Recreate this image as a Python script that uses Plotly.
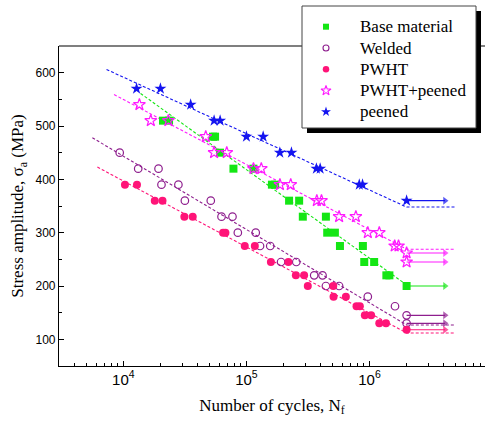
import plotly.graph_objects as go
import math

# ---------------- data ----------------
base_N = [21000, 23500, 53500, 55600, 61000, 78400, 114000, 161000, 171000, 222000, 268000,
          287000, 442000, 453000, 523000, 575000, 883000, 906000, 1090000, 1370000, 1450000]
base_S = [510, 510, 480, 480, 450, 420, 420, 390, 390, 360, 360,
          330, 330, 300, 300, 275, 275, 245, 245, 220, 220]
base_run_S = [200]

welded_N = [9340, 13200, 19300, 20400, 28000, 31600, 51300, 62700, 77000, 85100, 119000,
            129000, 156000, 191000, 254000, 355000, 415000, 442000, 566000, 968000, 1610000]
welded_S = [450, 420, 420, 390, 390, 360, 360, 330, 330, 300, 300,
            275, 275, 245, 245, 220, 220, 200, 200, 180, 162]
welded_run_S = [145, 130]

pwht_N = [10300, 12900, 18000, 20800, 31300, 36600, 64600, 67500, 96900, 117000, 158000, 219000,
          252000, 294000, 315000, 507000, 510000, 642000, 784000, 834000, 916000, 1030000, 1200000, 1360000]
pwht_S = [390, 390, 360, 360, 330, 330, 300, 300, 275, 275, 245, 245,
          220, 220, 200, 200, 180, 180, 162, 162, 145, 145, 130, 130]
pwht_run_S = [118]

pp_N = [13500, 16700, 23200, 46700, 54600, 69200, 114000, 132000, 187000, 229000, 373000, 407000,
        566000, 774000, 968000, 1200000, 1600000, 1720000]
pp_S = [540, 510, 510, 480, 450, 450, 420, 420, 390, 390, 360, 360,
        330, 330, 300, 300, 275, 275]
pp_run_S = [262, 245]

peened_N = [12800, 20000, 35200, 54600, 61100, 100000, 136700, 186700, 232000, 370000, 397000, 825000, 877000]
peened_S = [570, 570, 540, 510, 510, 480, 480, 450, 450, 420, 420, 390, 390]
peened_run_S = [360]

runout_N = 2e6
arrow_end_N = 4.1e6

# fitted S-N lines (from the picture)
fit_base_N, fit_base_S = [13800, 2e6], [561, 202]
fit_welded_N, fit_welded_S = [5600, 2e6, 5e6], [478, 127, 127]
fit_pwht_N, fit_pwht_S = [6150, 2e6, 5e6], [423, 112, 112]
fit_pp_N, fit_pp_S = [8400, 2e6, 5e6], [559, 269, 269]
fit_peened_N, fit_peened_S = [7300, 2e6, 5e6], [606, 348, 348]

names = ["Base material", "Welded", "PWHT", "PWHT+peened", "peened"]

# ---------------- styles ----------------
C_GREEN = "#14E614"
C_PURPLE = "#8E1E8E"
C_PINK = "#FF1478"
C_MAGENTA = "#FF1AFF"
C_BLUE = "#1414F0"

# name, N, S, runout S, fit N, fit S, colour, symbol, size, open?, legend size
series = [
    (names[0], base_N, base_S, base_run_S, fit_base_N, fit_base_S, C_GREEN, "square", 8, 0, 6),
    (names[1], welded_N, welded_S, welded_run_S, fit_welded_N, fit_welded_S, C_PURPLE, "circle-open", 7.5, 1, 6),
    (names[2], pwht_N, pwht_S, pwht_run_S, fit_pwht_N, fit_pwht_S, C_PINK, "circle", 8, 0, 6.5),
    (names[3], pp_N, pp_S, pp_run_S, fit_pp_N, fit_pp_S, C_MAGENTA, "star-open", 9, 1, 7.5),
    (names[4], peened_N, peened_S, peened_run_S, fit_peened_N, fit_peened_S, C_BLUE, "star", 9, 0, 7.5),
]

# page / plot-area geometry (px)
W, H = 486, 421
PLOT_X = (59, 485)
PLOT_Y = (46, 366)

def px_x(px):
    return px / W

def px_y(py):
    return (H - py) / H

# legend geometry (px)
LEG_BOX = (302, 6, 476, 128)
LEG_SHADOW = 5
LEG_MARK_X = 326
LEG_TEXT_X = 358
LEG_ROW_Y = [26.7, 48.0, 69.3, 90.6, 111.8]

fig = go.Figure()

# fit lines
for (nm, N, S, runS, fN, fS, col, sym, sz, op, lsz) in series:
    fig.add_trace(go.Scatter(x=fN, y=fS, mode="lines", showlegend=False,
                             line=dict(color=col, width=1.1, dash="3px,2px"), hoverinfo="skip"))

# run-out arrows
for (nm, N, S, runS, fN, fS, col, sym, sz, op, lsz) in series:
    for s in runS:
        fig.add_trace(go.Scatter(x=[runout_N, arrow_end_N], y=[s, s], mode="lines+markers",
                                 showlegend=False, hoverinfo="skip",
                                 line=dict(color=col, width=1.1),
                                 marker=dict(symbol="triangle-right", size=[0, 7], color=col,
                                             line=dict(width=0))))

# data points
for (nm, N, S, runS, fN, fS, col, sym, sz, op, lsz) in series:
    xs = N + [runout_N] * len(runS)
    ys = S + runS
    fig.add_trace(go.Scatter(x=xs, y=ys, mode="markers", showlegend=False, name=nm,
                             marker=dict(symbol=sym, size=sz, color=col,
                                         line=dict(color=col, width=1.2 if op else 0))))

# legend symbols on a full-page pixel axis
for i, (nm, N, S, runS, fN, fS, col, sym, sz, op, lsz) in enumerate(series):
    fig.add_trace(go.Scatter(x=[LEG_MARK_X], y=[LEG_ROW_Y[i]], xaxis="x2", yaxis="y2",
                             mode="markers", showlegend=False, cliponaxis=False, hoverinfo="skip",
                             marker=dict(symbol=sym, size=lsz, color=col,
                                         line=dict(color=col, width=1.1 if op else 0))))
    fig.add_annotation(x=px_x(LEG_TEXT_X), y=px_y(LEG_ROW_Y[i]), xref="paper", yref="paper",
                       text=nm, showarrow=False, xanchor="left", yanchor="middle",
                       font=dict(family="Liberation Serif, Times New Roman, serif", size=17, color="black"))

# top frame line (hidden behind legend), legend shadow and box
fig.add_shape(type="line", xref="paper", yref="paper",
              x0=px_x(PLOT_X[0]), x1=px_x(PLOT_X[1]), y0=px_y(PLOT_Y[0]), y1=px_y(PLOT_Y[0]),
              line=dict(color="black", width=1.2), layer="below")
x0, y0, x1, y1 = LEG_BOX
fig.add_shape(type="rect", xref="paper", yref="paper",
              x0=px_x(x0 + LEG_SHADOW), x1=px_x(x1 + LEG_SHADOW),
              y0=px_y(y1 + LEG_SHADOW), y1=px_y(y0 + LEG_SHADOW),
              fillcolor="black", line=dict(width=0), layer="below")
fig.add_shape(type="rect", xref="paper", yref="paper",
              x0=px_x(x0), x1=px_x(x1), y0=px_y(y1), y1=px_y(y0),
              fillcolor="white", line=dict(color="#444444", width=1), layer="below")

axis_font = dict(family="Liberation Sans, Arial, sans-serif", size=12, color="black")
title_font = dict(family="Liberation Serif, Times New Roman, serif", size=17, color="black")

fig.update_layout(
    width=W, height=H,
    margin=dict(l=0, r=0, t=0, b=0, autoexpand=False),
    paper_bgcolor="white", plot_bgcolor="rgba(0,0,0,0)",
    showlegend=False,
    xaxis=dict(type="log", range=[math.log10(3000), 6.938], automargin=False,
               domain=[px_x(PLOT_X[0]), px_x(PLOT_X[1])], anchor="y",
               showline=True, linecolor="black", linewidth=1.2, mirror=False,
               ticks="inside", ticklen=5, tickwidth=1, tickcolor="black",
               dtick=1, exponentformat="power", showgrid=False, zeroline=False,
               tickfont=axis_font,
               minor=dict(ticks="inside", ticklen=3, tickwidth=1, tickcolor="black", showgrid=False),
               title=dict(text="Number of cycles, N<sub>f</sub>", font=title_font, standoff=12)),
    yaxis=dict(range=[50, 650], dtick=100, tick0=0, automargin=False,
               domain=[px_y(PLOT_Y[1]), px_y(PLOT_Y[0])], anchor="x",
               showline=True, linecolor="black", linewidth=1.2, mirror=False,
               ticks="inside", ticklen=5, tickwidth=1, tickcolor="black",
               showgrid=False, zeroline=False, tickfont=axis_font,
               minor=dict(ticks="inside", ticklen=3, dtick=50, tickwidth=1, tickcolor="black", showgrid=False),
               title=dict(text="Stress amplitude, σ<sub>a</sub> (MPa)", font=title_font, standoff=7)),
    xaxis2=dict(domain=[0, 1], anchor="y2", range=[0, W], visible=False, fixedrange=True),
    yaxis2=dict(domain=[0, 1], anchor="x2", range=[H, 0], visible=False, fixedrange=True),
)

fig.write_html("out.html", config={"displayModeBar": False},
               post_script="document.body.style.margin='0px';")
